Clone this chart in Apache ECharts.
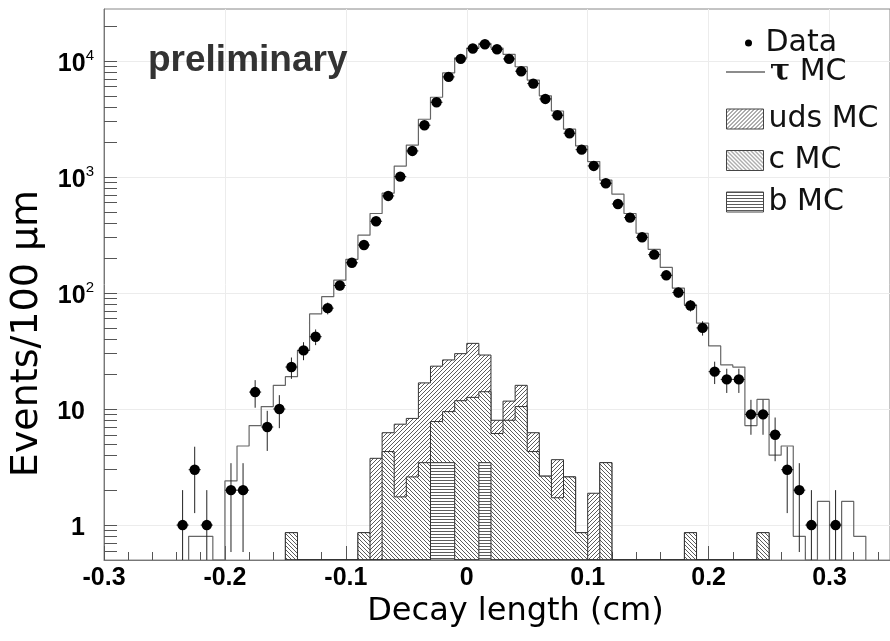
<!DOCTYPE html>
<html>
<head>
<meta charset="utf-8">
<script src="https://cdn.jsdelivr.net/npm/echarts@6/dist/echarts.min.js"></script>
<style>
html, body { margin: 0; padding: 0; background: #fff; }
#chart { width: 890px; height: 641px; }
</style>
</head>
<body>
<div id="chart"></div>
<script>
const binWidth = 0.01;
const yFloor = 0.5;
const yTop = 28000;

// data points: bin centres and counts
const dataX = [-0.235, -0.225, -0.215, -0.205, -0.195, -0.185, -0.175, -0.165, -0.155, -0.145,
	-0.135, -0.125, -0.115, -0.105, -0.095, -0.085, -0.075, -0.065, -0.055, -0.045,
	-0.035, -0.025, -0.015, -0.005, 0.005, 0.015, 0.025, 0.035, 0.045, 0.055,
	0.065, 0.075, 0.085, 0.095, 0.105, 0.115, 0.125, 0.135, 0.145, 0.155,
	0.165, 0.175, 0.185, 0.195, 0.205, 0.215, 0.225, 0.235, 0.245, 0.255,
	0.265, 0.275, 0.285, 0.295, 0.305];
const dataN = [1, 3, 1, 0, 2, 2, 14, 7, 10, 23,
	32, 42, 74, 116, 182, 259, 415, 686, 1006, 1675,
	2790, 4400, 7280, 10400, 12800, 13900, 12600, 10400, 8150, 6370,
	4700, 3400, 2380, 1718, 1244, 883, 585, 446, 302, 214,
	142, 101, 78, 50, 21, 18, 18, 9, 9, 6,
	3, 2, 1, 0, 1];

// tau MC, bins of 0.01 starting at tauLow
const tauLow = -0.23;
const tauMC = [0.8, 0.8, 0, 2.4, 4.8, 7.2, 10.5, 16, 19, 32,
	66, 93, 129, 195, 315, 484, 724, 1240, 1880, 3140,
	4860, 7870, 10600, 12900, 14150, 12900, 11400, 8900, 6830, 5000,
	3700, 2580, 1850, 1355, 940, 710, 484, 327, 238, 166,
	110, 79, 55, 35, 24, 23, 7.2, 12.1, 4.0, 4.8,
	0.8, 0, 1.6, 0, 1.6, 0.8];

// background MC, bins of 0.01 starting at bkgLow
const bkgLow = -0.15;
const udsMC = [0, 0, 0, 0, 0, 0, 0, 3.76, 1.95, 5.65,
	5.7, 13.35, 15.6, 17.0, 18.2, 24.2, 15.1, 1.85, 3.7, 5.5,
	1.95, 0, 1.94, 0, 0, 1.88, 0, 0, 0, 0,
	0, 0, 0, 0, 0, 0, 0, 0, 0, 0];
const cMC = [0.86, 0, 0, 0, 0, 0, 0.86, 0, 4.3, 1.75,
	2.6, 3.45, 4.35, 6.05, 11.8, 12.6, 10.65, 6.15, 8.0, 10.5,
	4.3, 2.64, 1.72, 2.6, 0.86, 0, 3.45, 0, 0, 0,
	0, 0, 0, 0.86, 0, 0, 0, 0, 0, 0.86];
const bMC = [0, 0, 0, 0, 0, 0, 0, 0, 0, 0,
	0, 0, 3.45, 3.45, 0, 0, 3.45, 0, 0, 0,
	0, 0, 0, 0, 0, 0, 0, 0, 0, 0,
	0, 0, 0, 0, 0, 0, 0, 0, 0, 0];

const xMajorTicks = [-0.3, -0.2, -0.1, 0, 0.1, 0.2, 0.3];
const xMinorTicks = [-0.28, -0.26, -0.24, -0.22, -0.18, -0.16, -0.14, -0.12, -0.08, -0.06, -0.04, -0.02,
	0.02, 0.04, 0.06, 0.08, 0.12, 0.14, 0.16, 0.18, 0.22, 0.24, 0.26, 0.28, 0.32, 0.34];
const yMajorTicks = [1, 10, 100, 1000, 10000];
const yMinorTicks = [0.6, 0.7, 0.8, 0.9, 2, 3, 4, 5, 6, 7, 8, 9, 20, 30, 40, 50, 60, 70, 80, 90,
	200, 300, 400, 500, 600, 700, 800, 900, 2000, 3000, 4000, 5000, 6000, 7000, 8000, 9000, 20000];

function hatch(kind) {
	const s = kind === "flat" ? 3 : 4;
	const cv = document.createElement("canvas");
	cv.width = s;
	cv.height = s;
	const ctx = cv.getContext("2d");
	ctx.strokeStyle = "#5c5c5c";
	ctx.lineWidth = 1;
	ctx.beginPath();
	if (kind === "up") {
		ctx.moveTo(0, s); ctx.lineTo(s, 0);
		ctx.moveTo(-1, 1); ctx.lineTo(1, -1);
		ctx.moveTo(s - 1, s + 1); ctx.lineTo(s + 1, s - 1);
	} else if (kind === "down") {
		ctx.moveTo(0, 0); ctx.lineTo(s, s);
		ctx.moveTo(-1, s - 1); ctx.lineTo(1, s + 1);
		ctx.moveTo(s - 1, -1); ctx.lineTo(s + 1, 1);
	} else {
		ctx.moveTo(0, 0.5); ctx.lineTo(s, 0.5);
	}
	ctx.stroke();
	return {image: cv, repeat: "repeat"};
}

const udsPat = hatch("up");
const cPat = hatch("down");
const bPat = hatch("flat");

// outline of a histogram as points in data space
function stepLine(low, vals) {
	const pts = [[low, yFloor]];
	vals.forEach((v, i) => {
		const y = v > yFloor ? v : yFloor;
		pts.push([low + i * binWidth, y], [low + (i + 1) * binWidth, y]);
	});
	pts.push([low + vals.length * binWidth, yFloor]);
	return pts;
}

const cbSum = cMC.map((v, i) => v + bMC[i]);
const allSum = udsMC.map((v, i) => v + cbSum[i]);

function histSeries(name, vals, pattern, z) {
	const pts = stepLine(bkgLow, vals);
	return {
		name: name,
		type: "custom",
		z: z,
		clip: true,
		data: [[bkgLow, yFloor]],
		itemStyle: {color: pattern},
		renderItem: (params, api) => {
			const px = pts.map(p => api.coord(p));
			return {
				type: "group",
				children: [
					{type: "polygon", shape: {points: px}, style: {fill: "#fff"}},
					{type: "polygon", shape: {points: px}, style: {fill: pattern, stroke: "#333", lineWidth: 1}}
				]
			};
		}
	};
}

const labelFont = "Liberation Sans";
const textFont = "DejaVu Sans";

const myChart = echarts.init(document.getElementById("chart"));
let option;

option = {
	animation: false,
	backgroundColor: "#fff",
	grid: {
		left: 104,
		right: -1,
		top: 9,
		bottom: 81,
		show: true,
		borderColor: "#888",
		borderWidth: 1
	},
	graphic: [{
		type: "text",
		left: 148,
		top: 42,
		z: 100,
		style: {
			text: "preliminary",
			font: "bold 37px \"Liberation Sans\"",
			fill: "#333"
		}
	}],
	legend: [{
		left: 745,
		top: 28,
		padding: 0,
		selectedMode: false,
		itemWidth: 24,
		itemHeight: 7,
		textStyle: {fontFamily: textFont, fontSize: 30, lineHeight: 30, color: "#111"},
		data: [{name: "Data", icon: "circle", itemStyle: {color: "#000"}}]
	}, {
		left: 726,
		top: 57,
		padding: 0,
		selectedMode: false,
		itemWidth: 39,
		itemHeight: 1.5,
		textStyle: {
			fontFamily: textFont, fontSize: 30, lineHeight: 30, color: "#111",
			rich: {t: {fontFamily: "DejaVu Serif", fontWeight: "bold", fontSize: 30, lineHeight: 30}}
		},
		formatter: (name) => name === "τ MC" ? "{t|τ} MC" : name,
		data: [{name: "τ MC", icon: "rect", itemStyle: {color: "#666"}}]
	}, {
		left: 726,
		top: 104,
		orient: "vertical",
		padding: 0,
		selectedMode: false,
		itemWidth: 37,
		itemHeight: 20,
		itemGap: 11.5,
		textStyle: {fontFamily: textFont, fontSize: 30, lineHeight: 30, color: "#111"},
		data: [
			{name: "uds MC", icon: "rect", itemStyle: {color: udsPat, borderColor: "#444", borderWidth: 1}},
			{name: "c MC", icon: "rect", itemStyle: {color: cPat, borderColor: "#444", borderWidth: 1}},
			{name: "b MC", icon: "rect", itemStyle: {color: bPat, borderColor: "#444", borderWidth: 1}}
		]
	}],
	xAxis: [{
		type: "value",
		min: -0.3,
		max: 0.35,
		position: "bottom",
		name: "Decay length (cm)",
		nameLocation: "middle",
		nameGap: 30,
		nameTextStyle: {fontFamily: textFont, fontSize: 32, color: "#000", padding: [0, 0, 0, 37]},
		axisLine: {onZero: false, lineStyle: {color: "#777"}},
		axisTick: {customValues: xMajorTicks, inside: true, length: 14, lineStyle: {color: "#555"}},
		axisLabel: {
			customValues: xMajorTicks,
			margin: 6,
			fontFamily: labelFont,
			fontWeight: "bold",
			fontSize: 25,
			color: "#000",
			formatter: (v) => Math.abs(v) < 1e-9 ? "0" : v.toFixed(1)
		},
		splitLine: {show: true, lineStyle: {color: "#ececec"}}
	}, {
		type: "value",
		min: -0.3,
		max: 0.35,
		position: "bottom",
		axisLine: {show: false, onZero: false},
		axisTick: {customValues: xMinorTicks, inside: true, length: 8, lineStyle: {color: "#555"}},
		axisLabel: {show: false},
		splitLine: {show: false}
	}],
	yAxis: [{
		type: "log",
		logBase: 10,
		min: yFloor,
		max: yTop,
		position: "left",
		name: "Events/100 µm",
		nameLocation: "middle",
		nameRotate: 90,
		nameGap: 54,
		nameTextStyle: {fontFamily: textFont, fontSize: 38, color: "#000", padding: [0, 98, 0, 0]},
		axisLine: {show: true, onZero: false, lineStyle: {color: "#777"}},
		axisTick: {customValues: yMajorTicks, inside: true, length: 13, lineStyle: {color: "#555"}},
		axisLabel: {
			customValues: yMajorTicks,
			margin: 10,
			formatter: (v) => {
				const e = Math.round(Math.log10(v));
				if (e === 0) return "{n|1}{p| }";
				if (e === 1) return "{n|10}{p| }";
				return "{n|10}{s|" + e + "}";
			},
			rich: {
				n: {fontFamily: labelFont, fontWeight: "bold", fontSize: 25, lineHeight: 25, color: "#000", padding: [6, 0, 0, 0]},
				s: {fontFamily: labelFont, fontSize: 15, lineHeight: 15, color: "#000", verticalAlign: "top"},
				p: {width: 9}
			}
		},
		splitLine: {show: true, lineStyle: {color: "#ececec"}}
	}, {
		type: "log",
		logBase: 10,
		min: yFloor,
		max: yTop,
		position: "left",
		axisLine: {show: false, onZero: false},
		axisTick: {customValues: yMinorTicks, inside: true, length: 13, lineStyle: {color: "#555"}},
		axisLabel: {show: false},
		splitLine: {show: false}
	}],
	series: [
		histSeries("uds MC", allSum, udsPat, 2),
		histSeries("c MC", cbSum, cPat, 3),
		histSeries("b MC", bMC, bPat, 4),
		{
			name: "τ MC",
			type: "line",
			z: 5,
			symbol: "none",
			clip: true,
			data: stepLine(tauLow, tauMC),
			lineStyle: {color: "#666", width: 1.2},
			itemStyle: {color: "#666"}
		},
		{
			name: "Data",
			type: "custom",
			z: 6,
			clip: true,
			itemStyle: {color: "#000"},
			data: dataX.map((x, i) => [x, dataN[i]]).filter(d => d[1] > 0),
			renderItem: (params, api) => {
				const x = api.value(0);
				const n = api.value(1);
				const e = Math.sqrt(n);
				const c = api.coord([x, n]);
				const lo = api.coord([x, Math.max(n - e, yFloor)]);
				const hi = api.coord([x, n + e]);
				const l = api.coord([x - binWidth / 2, n]);
				const r = api.coord([x + binWidth / 2, n]);
				return {
					type: "group",
					children: [
						{type: "line", shape: {x1: c[0], y1: lo[1], x2: c[0], y2: hi[1]}, style: {stroke: "#222", lineWidth: 1}},
						{type: "line", shape: {x1: l[0], y1: c[1], x2: r[0], y2: c[1]}, style: {stroke: "#222", lineWidth: 1}},
						{type: "circle", shape: {cx: c[0], cy: c[1], r: 5.2}, style: {fill: "#000"}}
					]
				};
			}
		}
	]
};

option && myChart.setOption(option);
</script>
</body>
</html>
